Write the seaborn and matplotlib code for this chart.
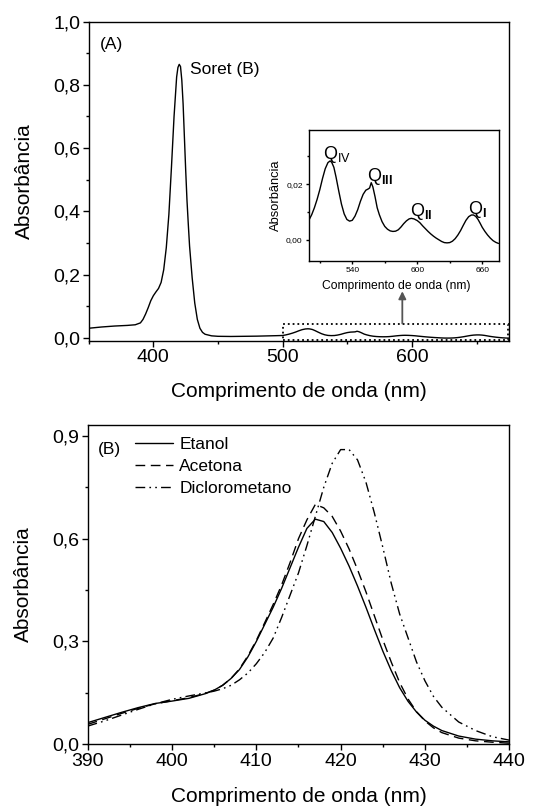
import matplotlib
matplotlib.use("Agg")
import matplotlib.pyplot as plt
import matplotlib.patches as patches
from matplotlib.ticker import MultipleLocator, FuncFormatter
import seaborn as sns

# ---- panel (A): Soret region (nm, absorbance)
wl_soret = [350, 360, 370, 380, 386, 390, 392, 394, 396, 398,
            400, 402, 404, 406, 408, 410, 412, 414, 416, 418,
            419, 420, 421, 422, 423, 424, 425, 426, 427, 428,
            430, 432, 434, 436, 438, 440, 445, 450, 460, 470,
            480, 490, 495]
abs_soret = [0.030, 0.034, 0.037, 0.039, 0.041, 0.047, 0.058, 0.075, 0.095, 0.117,
             0.133, 0.145, 0.156, 0.175, 0.215, 0.285, 0.390, 0.540, 0.700, 0.825,
             0.855, 0.865, 0.858, 0.815, 0.740, 0.635, 0.530, 0.435, 0.360, 0.290,
             0.190, 0.110, 0.058, 0.030, 0.017, 0.011, 0.006, 0.0045, 0.004, 0.0045,
             0.005, 0.006, 0.0065]

# ---- panel (A): Q bands region
wl_q = [500, 502.5, 505, 507.5, 510, 512.5, 515, 517.5, 519.5, 521,
        523, 525, 527.5, 530, 532.5, 535, 537.5, 540, 542.5, 545,
        547.5, 550, 552.5, 554.5, 556, 557.5, 559, 561, 563,
        565, 567.5, 570, 572.5, 575, 577.5, 580, 582.5, 585, 587.5,
        590, 592.5, 594.5, 597, 600, 602.5, 605, 607.5, 610, 612.5,
        615, 617.5, 620, 622.5, 625, 627.5, 630, 632.5, 635, 637.5,
        640, 642.5, 645, 647.5, 650, 652, 654, 656, 658, 660,
        662.5, 665, 667.5, 670, 672.5, 675]
abs_q = [0.0071, 0.0090, 0.0115, 0.0145, 0.0180, 0.0220, 0.0255, 0.0277, 0.0283, 0.0278,
         0.0260, 0.0225, 0.0175, 0.0128, 0.0093, 0.0073, 0.0067, 0.0070, 0.0085, 0.0108,
         0.0138, 0.0163, 0.0178, 0.0182, 0.0186, 0.0205, 0.0190, 0.0155, 0.0115,
         0.0090, 0.0065, 0.0048, 0.0038, 0.0032, 0.0030, 0.0031, 0.0036, 0.0046, 0.0058,
         0.0068, 0.0075, 0.0077, 0.0075, 0.0069, 0.0061, 0.0050, 0.0040, 0.0030, 0.0021,
         0.0013, 0.0006, 0.0000, -0.0006, -0.0010, -0.0011, -0.0010, -0.0005, 0.0004, 0.0017,
         0.0033, 0.0052, 0.0070, 0.0083, 0.0089, 0.0089, 0.0084, 0.0074, 0.0060, 0.0045,
         0.0030, 0.0017, 0.0006, -0.0003, -0.0009, -0.0013]

# ---- panel (B): Soret band in three solvents
wl_b = [390, 392, 394, 396, 398, 400, 402, 404, 405, 406,
        407, 408, 409, 410, 411, 412, 413, 414, 415, 416,
        417, 418, 419, 420, 421, 422, 423, 424, 425, 426,
        427, 428, 429, 430, 431, 432, 434, 436, 438, 440]
etanol = [0.063, 0.078, 0.093, 0.107, 0.119, 0.126, 0.134, 0.148, 0.158, 0.172,
          0.192, 0.218, 0.255, 0.300, 0.350, 0.400, 0.455, 0.515, 0.575, 0.630,
          0.657, 0.650, 0.618, 0.572, 0.520, 0.462, 0.400, 0.335, 0.272, 0.215,
          0.165, 0.125, 0.094, 0.070, 0.053, 0.040, 0.024, 0.015, 0.010, 0.007]
acetona = [0.058, 0.074, 0.090, 0.105, 0.118, 0.127, 0.136, 0.149, 0.158, 0.172,
           0.192, 0.220, 0.258, 0.303, 0.355, 0.408, 0.465, 0.530, 0.600, 0.655,
           0.700, 0.690, 0.665, 0.622, 0.570, 0.510, 0.445, 0.375, 0.305, 0.240,
           0.180, 0.132, 0.095, 0.068, 0.048, 0.034, 0.018, 0.010, 0.006, 0.003]
diclorometano = [0.053, 0.068, 0.085, 0.102, 0.118, 0.131, 0.141, 0.150, 0.155, 0.162,
                 0.172, 0.188, 0.208, 0.235, 0.268, 0.310, 0.370, 0.435, 0.500, 0.580,
                 0.665, 0.750, 0.820, 0.860, 0.860, 0.830, 0.765, 0.675, 0.575, 0.470,
                 0.380, 0.310, 0.240, 0.185, 0.140, 0.108, 0.065, 0.040, 0.022, 0.012]
solvents = ["Etanol", "Acetona", "Diclorometano"]
q_labels = [r"Q$_{\mathrm{IV}}$", r"Q$_{\mathbf{III}}$", r"Q$_{\mathbf{II}}$", r"Q$_{\mathbf{I}}$"]
q_pos = [(513.4, 0.0290), (553.8, 0.0211), (592.9, 0.0086), (647.1, 0.0093)]

sns.set_style("ticks", {"axes.edgecolor": "black", "xtick.color": "black",
                        "ytick.color": "black", "text.color": "black",
                        "axes.labelcolor": "black"})
plt.rcParams["font.family"] = ["Liberation Sans", "DejaVu Sans"]
plt.rcParams["mathtext.fontset"] = "custom"
plt.rcParams["mathtext.rm"] = "Liberation Sans"
plt.rcParams["mathtext.bf"] = "Liberation Sans:bold"
plt.rcParams["axes.linewidth"] = 1.0


def comma(ndec):
    return FuncFormatter(lambda v, p: f"{v:.{ndec}f}".replace(".", ","))


def style_axis(ax, size=14, major=4, minor=2.5):
    ax.tick_params(which="major", direction="out", length=major, width=1,
                   labelsize=size, pad=2)
    ax.tick_params(which="minor", direction="out", length=minor, width=1)
    for s in ax.spines.values():
        s.set_linewidth(1.0)


wl_a = wl_soret + wl_q
abs_a = abs_soret + abs_q

fig = plt.figure(figsize=(5.33, 8.06), dpi=100)

# ---------------- panel A
ax1 = fig.add_axes([0.1664, 0.5769, 0.7886, 0.3962])
sns.lineplot(x=wl_a, y=abs_a, ax=ax1, color="black", linewidth=1.0)
ax1.set_xlim(350, 675)
ax1.set_ylim(-0.0104, 1.0)
ax1.xaxis.set_major_locator(MultipleLocator(100))
ax1.xaxis.set_minor_locator(MultipleLocator(50))
ax1.yaxis.set_major_locator(MultipleLocator(0.2))
ax1.yaxis.set_minor_locator(MultipleLocator(0.1))
ax1.yaxis.set_major_formatter(comma(1))
style_axis(ax1)
ax1.set_xlabel("Comprimento de onda (nm)", fontsize=15, labelpad=11)
ax1.set_ylabel("Absorbância", fontsize=15, labelpad=14)
ax1.text(0.027, 0.927, "(A)", transform=ax1.transAxes, fontsize=12.5,
         ha="left", va="center")
ax1.text(428, 0.85, "Soret (B)", fontsize=12.5, ha="left", va="center")

ax1.add_patch(patches.Rectangle((500, -0.0075), 174, 0.0525, fill=False,
                                linestyle=":", linewidth=1.3, edgecolor="black"))
ax1.annotate("", xy=(592.5, 0.147), xytext=(592.5, 0.045),
             arrowprops=dict(arrowstyle="-|>", color="#555555", lw=1.3,
                             mutation_scale=11, shrinkA=0, shrinkB=0))

# inset
axi = fig.add_axes([0.5797, 0.6762, 0.3565, 0.1625])
sns.lineplot(x=wl_q, y=abs_q, ax=axi, color="black", linewidth=1.0)
axi.set_xlim(500, 675.5)
axi.set_ylim(-0.0076, 0.0394)
axi.xaxis.set_major_locator(MultipleLocator(60))
axi.xaxis.set_minor_locator(MultipleLocator(30))
axi.yaxis.set_major_locator(MultipleLocator(0.02))
axi.yaxis.set_minor_locator(MultipleLocator(0.01))
axi.yaxis.set_major_formatter(comma(2))
style_axis(axi, size=6, major=2.5, minor=1.5)
axi.set_xlabel("Comprimento de onda (nm)", fontsize=8.7)
axi.xaxis.set_label_coords(0.458, -0.145)
axi.set_ylabel("Absorbância", fontsize=9.3, labelpad=3)
for lab, (x, y) in zip(q_labels, q_pos):
    axi.text(x, y, lab, fontsize=13, ha="left", va="baseline")

# ---------------- panel B
ax2 = fig.add_axes([0.1645, 0.0766, 0.791, 0.3962])
styles = ["-", (0, (7, 4)), (0, (7, 3, 1.2, 3, 1.2, 3))]
for name, vals, ls in zip(solvents, [etanol, acetona, diclorometano], styles):
    sns.lineplot(x=wl_b, y=vals, ax=ax2, color="black", linewidth=1.0,
                 linestyle=ls, label=name)
ax2.set_xlim(390, 440)
ax2.set_ylim(0, 0.932)
ax2.xaxis.set_major_locator(MultipleLocator(10))
ax2.xaxis.set_minor_locator(MultipleLocator(5))
ax2.yaxis.set_major_locator(MultipleLocator(0.3))
ax2.yaxis.set_minor_locator(MultipleLocator(0.15))
ax2.yaxis.set_major_formatter(comma(1))
style_axis(ax2)
ax2.set_xlabel("Comprimento de onda (nm)", fontsize=15, labelpad=12.5)
ax2.set_ylabel("Absorbância", fontsize=15, labelpad=14)
ax2.text(0.024, 0.922, "(B)", transform=ax2.transAxes, fontsize=12.5,
         ha="left", va="center")
ax2.legend(loc="upper left", bbox_to_anchor=(0.112, 0.963), frameon=False,
           fontsize=12.5, handlelength=2.2, handletextpad=0.35,
           labelspacing=0.4, borderpad=0, borderaxespad=0)

fig.savefig("out.png", dpi=100)
